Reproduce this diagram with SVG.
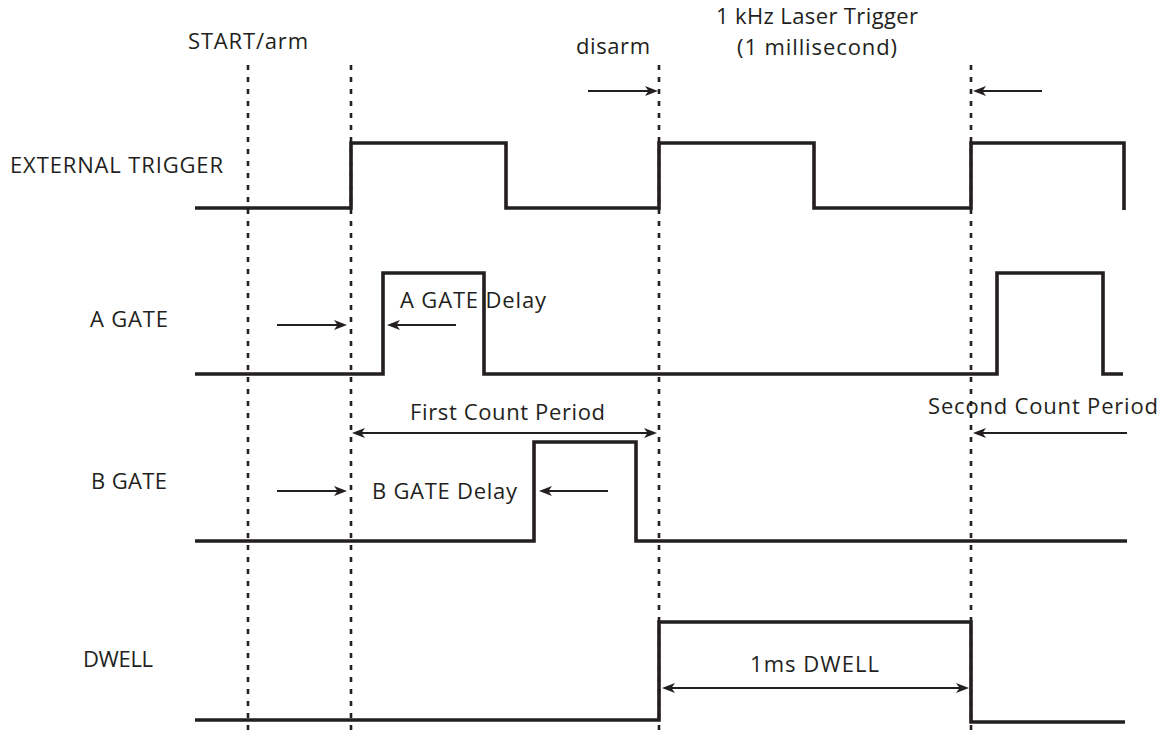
<svg xmlns="http://www.w3.org/2000/svg" width="1172" height="736" viewBox="0 0 1172 736">
  <style>
    .t { font-family: "Open Sans", "Liberation Sans", Arial, sans-serif; font-size: 22px; fill: #231f20; }
    .wave { fill: none; stroke: #231f20; stroke-width: 3.6; stroke-linejoin: miter; stroke-linecap: butt; }
    .dash { fill: none; stroke: #231f20; stroke-width: 2.6; stroke-dasharray: 5 7; }
    .arr { fill: none; stroke: #231f20; stroke-width: 2; }
  </style>
  <defs>
    <marker id="ah" viewBox="0 0 13 10" refX="10" refY="5" markerWidth="13" markerHeight="10" markerUnits="userSpaceOnUse" orient="auto-start-reverse">
      <path d="M0,0 L13,5 L0,10 L3.5,5 z" fill="#231f20"/>
    </marker>
  </defs>
  <rect width="1172" height="736" fill="#ffffff"/>

  <g id="guides">
    <line class="dash" x1="248" y1="65" x2="248" y2="736"/>
    <line class="dash" x1="351" y1="65" x2="351" y2="736"/>
    <line class="dash" x1="659" y1="65" x2="659" y2="736"/>
    <line class="dash" x1="971" y1="65" x2="971" y2="736"/>
  </g>

  <g id="header">
    <text class="t" x="188" y="49" textLength="120">START/arm</text>
    <text class="t" x="576" y="54" textLength="74">disarm</text>
    <text class="t" x="716" y="24" textLength="202">1 kHz Laser Trigger</text>
    <text class="t" x="737" y="55" textLength="160">(1 millisecond)</text>
  </g>

  <g id="external-trigger">
    <text class="t" x="10" y="173" textLength="213">EXTERNAL TRIGGER</text>
    <path class="wave" d="M195,208 H351 V143 H506 V208 H659 V143 H814 V208 H971 V143 H1124 V210"/>
  </g>

  <g id="a-gate">
    <text class="t" x="90" y="327" textLength="78">A GATE</text>
    <path class="wave" d="M195,374 H383 V273 H484 V374 H997 V273 H1103 V374 H1123"/>
    <text class="t" x="400" y="308" textLength="146">A GATE Delay</text>
  </g>

  <g id="b-gate">
    <text class="t" x="91" y="489" textLength="76">B GATE</text>
    <path class="wave" d="M195,541 H534 V442 H636 V541 H1127"/>
    <text class="t" x="372" y="499" textLength="145">B GATE Delay</text>
  </g>

  <g id="dwell">
    <text class="t" x="83" y="667" textLength="70">DWELL</text>
    <path class="wave" d="M195,720 H659 V622 H971 V722 H1125"/>
    <text class="t" x="750" y="672" textLength="129">1ms DWELL</text>
  </g>

  <g id="periods">
    <text class="t" x="410" y="420" textLength="195">First Count Period</text>
    <text class="t" x="928" y="414" textLength="230">Second Count Period</text>
  </g>

  <g id="connectors">
    <line class="arr" x1="588" y1="91" x2="655" y2="91" marker-end="url(#ah)"/>
    <line class="arr" x1="1042" y1="91" x2="976" y2="91" marker-end="url(#ah)"/>
    <line class="arr" x1="277" y1="325" x2="344" y2="325" marker-end="url(#ah)"/>
    <line class="arr" x1="456" y1="325" x2="390" y2="325" marker-end="url(#ah)"/>
    <line class="arr" x1="355" y1="433" x2="654" y2="433" marker-start="url(#ah)" marker-end="url(#ah)"/>
    <line class="arr" x1="1127" y1="433" x2="976" y2="433" marker-end="url(#ah)"/>
    <line class="arr" x1="277" y1="491" x2="344" y2="491" marker-end="url(#ah)"/>
    <line class="arr" x1="608" y1="491" x2="542" y2="491" marker-end="url(#ah)"/>
    <line class="arr" x1="665" y1="688" x2="966" y2="688" marker-start="url(#ah)" marker-end="url(#ah)"/>
  </g>
</svg>
